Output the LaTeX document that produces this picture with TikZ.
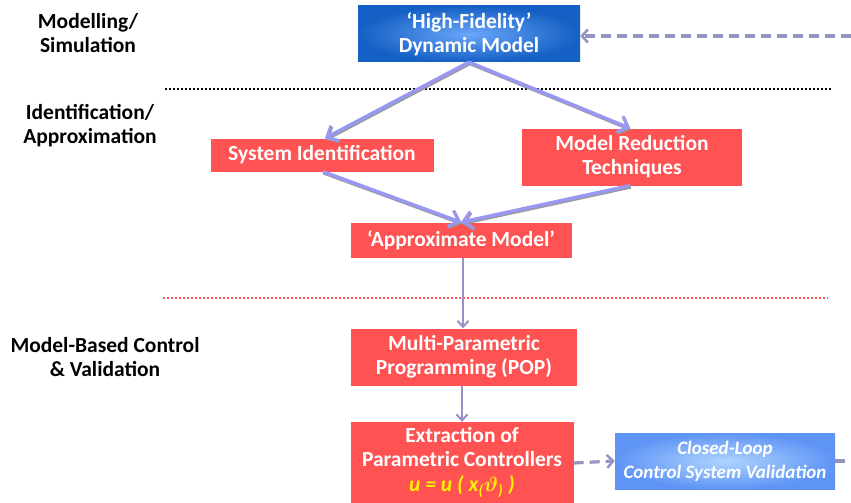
\documentclass[tikz,border=0pt]{standalone}
\usepackage{fontspec}
\setmainfont{Carlito}
\usepackage{amsmath}
\usepackage{xcolor}
\usetikzlibrary{shapes,arrows.meta,positioning,calc}

\definecolor{boxred}{HTML}{FF5252}
\definecolor{deepblue}{HTML}{1560C4}
\definecolor{midblue}{HTML}{6AA6FA}
\definecolor{paleblue}{HTML}{B0D4FF}
\definecolor{skyblue}{HTML}{5E94F5}
\definecolor{lavender}{HTML}{9898F2}
\definecolor{greyviolet}{HTML}{9494C4}
\definecolor{formula}{HTML}{FFF200}

\tikzset{
  phase/.style={font=\fontsize{21.5}{24}\selectfont\bfseries, align=center, text=black},
  redbox/.style={fill=boxred, text=white, font=\fontsize{21.5}{24}\selectfont\bfseries, align=center, inner sep=0pt},
  flow/.style={draw=lavender, line width=3.5pt, -{Straight Barb[length=9pt,width=17pt,line width=3pt]},
    preaction={draw=gray!80, line width=3.5pt, transform canvas={shift={(0.8pt,-1.2pt)}}}},
  down/.style={draw=greyviolet, line width=2.2pt, -{Straight Barb[length=6pt,width=11pt,line width=2pt]}},
  dashflow/.style={draw=greyviolet, line width=3.2pt, dash pattern=on 10pt off 6pt},
}

\begin{document}
\begin{tikzpicture}[x=1pt,y=-1pt]
    \useasboundingbox (0,0) rectangle (851,503);

    % Phase labels
    \node[phase] (modlabel) at (88,33) {Modelling/\\Simulation};
    \node[phase] (idlabel) at (90,126) {Identification/\\Approximation};
    \node[phase] (ctrllabel) at (105,357) {Model-Based Control\\\& Validation};

    % Separators
    \draw[black, line width=2pt, dash pattern=on 2pt off 2pt] (165,89) -- (832,89);
    \draw[boxred, line width=2pt, dash pattern=on 2pt off 2pt] (163,298) -- (828,298);

    % Boxes
    \node[redbox, inner sep=0pt, minimum width=222pt, minimum height=56pt, shading=radial,
      inner color=midblue, outer color=deepblue] (hifi) at (469,34) {`High-Fidelity'\\Dynamic Model};
    \node[redbox, minimum width=223pt, minimum height=33pt] (sysid) at (322,155) {System Identification};
    \node[redbox, minimum width=220pt, minimum height=57pt] (modred) at (632,157) {Model Reduction\\Techniques};
    \node[redbox, minimum width=221pt, minimum height=35pt] (approx) at (461,240) {`Approximate Model'};
    \node[redbox, minimum width=226pt, minimum height=57pt] (mpp) at (464,357) {Multi-Parametric\\Programming (POP)};
    \node[redbox, minimum width=223pt, minimum height=82pt] (extract) at (462,463)
      {Extraction of\\Parametric Controllers\\[1pt]
       \textcolor{formula}{\itshape u = u ( x\textsubscript{(}$\boldsymbol{\vartheta}$\textsubscript{)} )}};
    \node[redbox, font=\fontsize{19}{24}\selectfont\bfseries\itshape, minimum width=220pt, minimum height=56pt,
      shading=radial, inner color=paleblue, outer color=skyblue] (closedloop) at (725,461)
      {Closed-Loop\\Control System Validation};

    % Free ends
    \coordinate (feedin) at ([yshift=-2pt]hifi.east -| 851,0);
    \coordinate (feedout) at (closedloop.east -| 851,0);

    % Arrows
    \draw[flow] (hifi.south) -- ([xshift=3pt]sysid.north);
    \draw[flow] (hifi.south) -- ([xshift=-2pt]modred.north);
    \draw[flow] ([xshift=1pt]sysid.south) -- (approx.north);
    \draw[flow] ([xshift=-2pt]modred.south) -- (approx.north);
    \draw[down] ([xshift=2pt]approx.south) -- ([xshift=-1pt]mpp.north);
    \draw[down] ([xshift=-2pt]mpp.south) -- (extract.north);
    \draw[dashflow, -{Straight Barb[length=6pt,width=13pt,line width=2.5pt]}] (feedin) -- (feedin -| hifi.east);
    \draw[dashflow, -{Straight Barb[length=6pt,width=13pt,line width=2.5pt]}] (extract.east) -- (closedloop.west);
    \draw[dashflow] (closedloop.east) -- (feedout);
\end{tikzpicture}
\end{document}
